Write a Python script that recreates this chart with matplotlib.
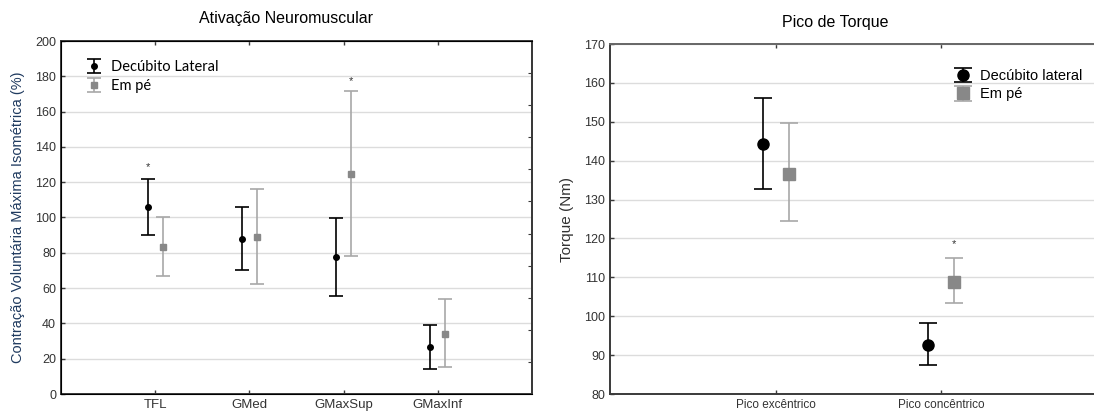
import matplotlib
matplotlib.use('Agg')
import matplotlib.pyplot as plt
import numpy as np

plt.rcParams['font.family'] = ['Liberation Sans', 'DejaVu Sans']

# Ativação Neuromuscular (%CVMI)
musculos = ['TFL', 'GMed', 'GMaxSup', 'GMaxInf']
dec_media = [105.8, 87.8, 77.6, 26.6]
dec_sup = [122.0, 106.0, 99.7, 39.3]
dec_inf = [89.9, 70.0, 55.7, 14.0]
pe_media = [83.5, 89.0, 124.6, 34.2]
pe_sup = [100.0, 116.0, 171.5, 53.6]
pe_inf = [66.7, 62.3, 78.4, 15.5]
ast_ativ = [('dec', 0, 125.5), ('pe', 2, 174.5)]

# Pico de Torque (Nm)
picos = ['Pico excêntrico', 'Pico concêntrico']
tq_dec_media = [144.3, 92.7]
tq_dec_sup = [156.1, 98.2]
tq_dec_inf = [132.6, 87.4]
tq_pe_media = [136.7, 108.8]
tq_pe_sup = [149.6, 115.1]
tq_pe_inf = [124.4, 103.3]
ast_tq = [('pe', 1, 117.3)]

W, H = 1094, 415
fig = plt.figure(figsize=(W / 100, H / 100), dpi=100)

def px_axes(l, r, t, b):
    return fig.add_axes([l / W, 1 - b / H, (r - l) / W, (b - t) / H])

spine_c = '#3a3a3a'
grid_c = '#dcdcdc'
cinza_linha = '#a8a8a8'
cinza_marc = '#888888'

def estilo(ax):
    for s in ax.spines.values():
        s.set_color(spine_c)
        s.set_linewidth(1.4)
    ax.tick_params(direction='in', length=3, color=spine_c, width=1,
                   labelsize=9, labelcolor='#333333')
    ax.yaxis.grid(True, color=grid_c, linewidth=1)
    ax.set_axisbelow(True)

def barras(ax, x, media, sup, inf, cor_l, cor_m, marc, ms, cap, lab):
    media = np.array(media)
    err = [media - np.array(inf), np.array(sup) - media]
    return ax.errorbar(x, media, yerr=err, fmt=marc, color=cor_l, mfc=cor_m,
                       mec=cor_m, ms=ms, capsize=cap, elinewidth=1.2,
                       capthick=1.2, label=lab, zorder=3)

# ---- painel esquerdo ----
ax1 = px_axes(61, 532, 41, 394)
estilo(ax1)
x1 = np.arange(1, len(musculos) + 1)
d = 0.08
barras(ax1, x1 - d, dec_media, dec_sup, dec_inf, 'black', 'black', 'o', 4, 5, 'Decúbito Lateral')
barras(ax1, x1 + d, pe_media, pe_sup, pe_inf, cinza_linha, cinza_marc, 's', 4, 5, 'Em pé')
ax1.set_xlim(0, 5)
ax1.set_ylim(0, 200)
ax1.set_yticks(np.arange(0, 201, 20))
ax1.set_xticks(x1)
ax1.set_xticklabels(musculos, fontsize=9.5)
ax1.tick_params(top=True)
ax1.set_ylabel('Contração Voluntária Máxima Isométrica (%)', color='#1f3a5f',
               fontsize=10.5, labelpad=7)
for g, i, y in ast_ativ:
    ax1.text(x1[i] + (-d if g == 'dec' else d), y, '*', ha='center', va='bottom',
             fontsize=8, color='#333333')
r1 = ax1.twinx()
r1.set_ylim(0, 200)
r1.set_yticks(np.arange(1, 11) * 200 / 11)
r1.tick_params(direction='in', length=3, color=spine_c, labelright=False)
r1.spines['right'].set_color(spine_c)
r1.spines['right'].set_linewidth(1.4)
ax1.legend(loc='upper left', bbox_to_anchor=(0.02, 0.975), frameon=False,
           prop={'family': 'Lato', 'size': 10.5}, handlelength=1.8,
           handletextpad=0.3, labelspacing=0.35, borderaxespad=0.3)
fig.text(286 / W, 1 - 19 / H, 'Ativação Neuromuscular', ha='center', va='center',
         fontsize=11.5)

# ---- painel direito ----
ax2 = px_axes(610, 1107, 44, 394)
estilo(ax2)
ax2.spines['top'].set_color('#666666')
x2 = np.arange(1, len(picos) + 1)
d2 = 0.078
barras(ax2, x2 - d2, tq_dec_media, tq_dec_sup, tq_dec_inf, 'black', 'black', 'o', 8, 6.5, 'Decúbito lateral')
barras(ax2, x2 + d2, tq_pe_media, tq_pe_sup, tq_pe_inf, cinza_linha, cinza_marc, 's', 8, 6.5, 'Em pé')
ax2.set_xlim(0, 3)
ax2.set_ylim(80, 170)
ax2.set_yticks(np.arange(80, 171, 10))
ax2.set_xticks(x2)
ax2.set_xticklabels(picos, fontsize=8.5)
ax2.tick_params(top=True)
ax2.set_ylabel('Torque (Nm)', color='#333333', fontsize=11, labelpad=7)
for g, i, y in ast_tq:
    ax2.text(x2[i] + (-d2 if g == 'dec' else d2), y, '*', ha='center', va='bottom',
             fontsize=8, color='#333333')
ax2.legend(loc='upper left', bbox_to_anchor=(334 / 497, 0.945), frameon=False,
           fontsize=10.5, handlelength=1.8, handletextpad=0.3, labelspacing=0.3,
           borderaxespad=0)
fig.text(835 / W, 1 - 22 / H, 'Pico de Torque', ha='center', va='center',
         fontsize=11.5)

fig.savefig('out.png', dpi=100)
